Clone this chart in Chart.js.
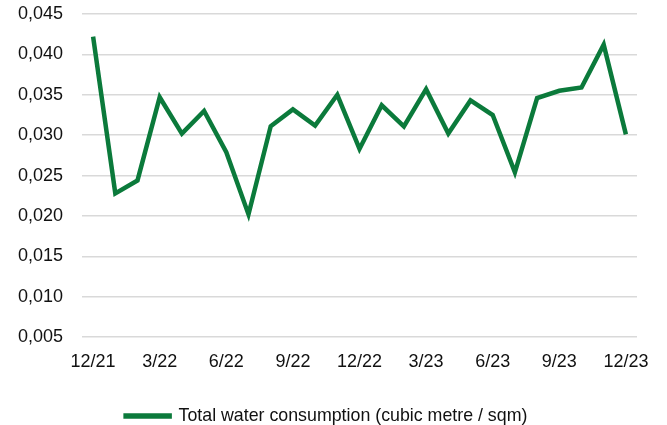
<!DOCTYPE html>
<html>
<head>
<meta charset="utf-8">
<script src="https://cdn.jsdelivr.net/npm/chart.js@4"></script>
<style>
  html, body { margin: 0; padding: 0; background: #fff; }
  #wrap { width: 667px; height: 425px; }
</style>
</head>
<body>
<div id="wrap"><canvas id="water-chart"></canvas></div>
<script>
// monthly periods, Dec 2021 .. Dec 2023
const months = [
  '12/21', '1/22', '2/22', '3/22', '4/22', '5/22', '6/22', '7/22', '8/22',
  '9/22', '10/22', '11/22', '12/22', '1/23', '2/23', '3/23', '4/23', '5/23',
  '6/23', '7/23', '8/23', '9/23', '10/23', '11/23', '12/23'
];
const shownLabels = ['12/21', '3/22', '6/22', '9/22', '12/22', '3/23', '6/23', '9/23', '12/23'];
const waterUse = [
  0.0422, 0.0228, 0.0244, 0.0347, 0.0302, 0.0330, 0.0279, 0.0202, 0.0311,
  0.0332, 0.0312, 0.0350, 0.0283, 0.0337, 0.0311, 0.0357, 0.0302, 0.0343,
  0.0325, 0.0254, 0.0346, 0.0355, 0.0359, 0.0412, 0.0301
];
const seriesName = 'Total water consumption (cubic metre / sqm)';

const green = '#0b7a3b';
const font = 'Liberation Sans, Arial, sans-serif';

// nudge the legend a bit right so it sits where the original one does
const legendShift = {
  id: 'legendShift',
  beforeDraw(chart) {
    const lg = chart.legend;
    if (lg && !lg._shifted) {
      lg.left += 8;
      lg.right += 8;
      lg._shifted = true;
    }
  }
};

const ctx = document.getElementById('water-chart').getContext('2d');
new Chart(ctx, {
  type: 'line',
  data: {
    labels: months,
    datasets: [{
      label: seriesName,
      data: waterUse,
      borderColor: green,
      backgroundColor: green,
      borderWidth: 4.5,
      pointRadius: 0,
      tension: 0
    }]
  },
  plugins: [legendShift],
  options: {
    responsive: true,
    maintainAspectRatio: false,
    animation: false,
    layout: { padding: { top: 14, right: 30, left: 0, bottom: -10 } },
    plugins: {
      tooltip: { enabled: false },
      legend: {
        position: 'bottom',
        labels: {
          boxWidth: 44,
          boxHeight: 1,
          padding: 2,
          color: '#111',
          font: { family: font, size: 17.8 }
        }
      }
    },
    scales: {
      x: {
        offset: true,
        grid: { display: false },
        border: { display: false },
        afterFit: (scale) => {
          scale.height = 68;
          scale.paddingLeft = 0;
          scale.paddingRight = 0;
        },
        ticks: {
          autoSkip: false,
          maxRotation: 0,
          padding: 6,
          color: '#111',
          font: { family: font, size: 18 },
          callback: function (value, index) {
            const lab = months[index];
            return shownLabels.includes(lab) ? lab : '';
          }
        }
      },
      y: {
        min: 0.005,
        max: 0.045,
        afterFit: (scale) => {
          scale.width = 82;
          scale.paddingTop = 0;
          scale.paddingBottom = 0;
        },
        grid: { color: '#d9d9d9', lineWidth: 1.5, drawTicks: false },
        border: { display: false },
        ticks: {
          stepSize: 0.005,
          padding: 19,
          color: '#111',
          font: { family: font, size: 18 },
          callback: (v) => v.toFixed(3).replace('.', ',')
        }
      }
    }
  }
});
</script>
</body>
</html>
